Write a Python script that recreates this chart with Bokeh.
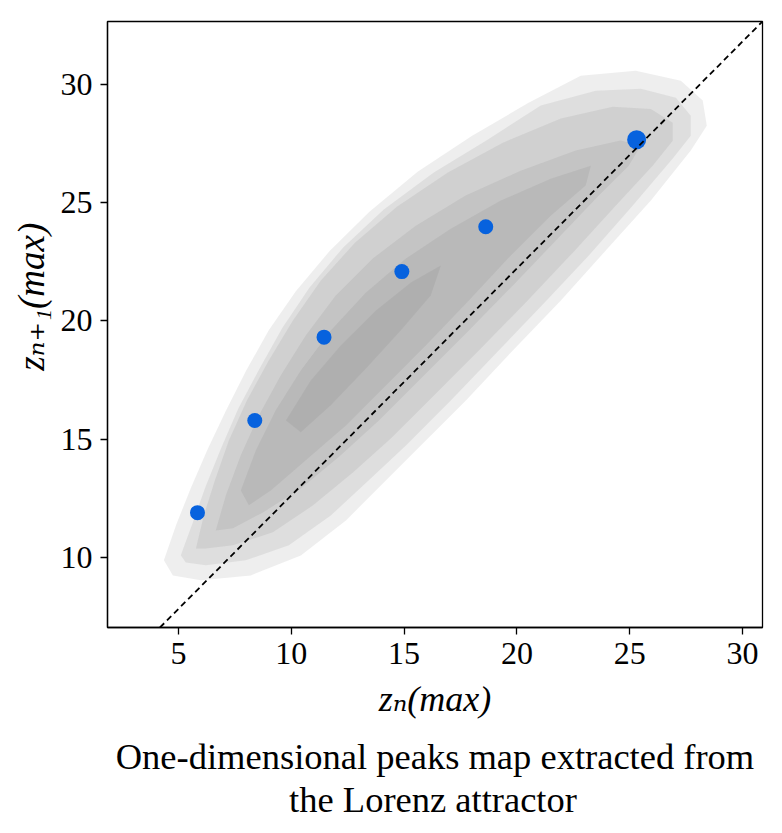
from bokeh.embed import file_html
from bokeh.models import FixedTicker, Range1d, Slope, Title
from bokeh.plotting import figure
from bokeh.resources import INLINE

# Successive maxima of z: z_n(max) against z_{n+1}(max), highlighted points
zn_max = [5.84, 8.38, 11.45, 14.90, 18.62, 25.31]
zn1_max = [11.90, 15.79, 19.31, 22.08, 23.97, 27.65]

x_ticks = [5, 10, 15, 20, 25, 30]
y_ticks = [10, 15, 20, 25, 30]

x_label = "z\u2099(max)"
y_label = "z\u2099\u208a\u2081(max)"
caption = ["One-dimensional peaks map extracted from", "the Lorenz attractor"]

# Density of the peak cloud, as nested contours (outermost first)
cloud_x = [
    [4.35, 4.9, 5.55, 6.3, 7.1, 8.0, 9.0, 10.2, 11.7, 13.45, 15.6, 18.0, 20.5,
     22.83, 25.27, 27.27, 28.24, 28.42, 27.71, 25.94, 23.94, 21.95, 19.82, 17.74, 15.74,
     14.19, 12.42, 10.42, 8.20, 5.99, 4.75],
    [5.10, 5.6, 6.2, 6.9, 7.65, 8.6, 9.6, 10.8, 12.3, 14.1, 16.3, 18.7, 21.06,
     23.50, 25.50, 27.05, 27.71, 27.71, 26.91, 25.14, 23.19, 21.19, 19.11, 17.07, 15.08,
     13.53, 11.75, 9.89, 7.98, 6.21, 5.32],
    [5.77, 6.12, 6.61, 7.23, 8.03, 9.00, 10.07, 11.31, 12.82, 14.68, 16.94, 19.38, 21.95,
     24.25, 25.94, 26.91, 26.91, 26.02, 24.38, 22.48, 20.48, 18.40, 16.32, 14.41, 12.73,
     10.95, 9.18, 7.41, 6.21],
    [6.65, 7.10, 7.76, 8.56, 9.53, 10.64, 11.97, 13.61, 15.52, 17.73, 20.17, 22.61, 24.60,
     25.49, 24.96, 23.63, 21.94, 19.95, 17.87, 15.74, 13.88, 12.19, 10.42, 8.74, 7.41],
    [7.76, 8.43, 9.31, 10.42, 11.75, 13.30, 15.08, 17.07, 19.29, 21.50, 23.28, 23.05,
     21.50, 19.73, 17.87, 15.96, 14.19, 12.42, 10.64, 9.09, 8.12],
    [9.76, 10.86, 12.19, 13.75, 15.30, 16.63, 16.18, 14.85, 13.30, 11.75, 10.42],
]
cloud_y = [
    [9.89, 11.4, 12.95, 14.6, 16.2, 17.9, 19.6, 21.25, 22.95, 24.6, 26.3, 27.8,
     29.2, 30.35, 30.56, 30.14, 29.30, 28.24, 27.19, 25.08, 22.97, 20.86, 18.75, 16.64,
     14.74, 13.26, 11.57, 10.09, 9.25, 9.04, 9.25],
    [10.10, 11.4, 13.0, 14.65, 16.3, 18.0, 19.7, 21.4, 23.1, 24.7, 26.25, 27.65,
     29.09, 29.72, 29.80, 29.42, 28.66, 27.82, 26.85, 24.87, 22.76, 20.73, 18.66, 16.64,
     14.74, 13.35, 11.78, 10.52, 9.89, 9.68, 9.80],
    [10.39, 11.78, 13.26, 14.95, 16.64, 18.32, 20.01, 21.70, 23.30, 24.82, 26.26, 27.52,
     28.54, 29.04, 28.95, 28.36, 27.60, 26.55, 24.86, 22.88, 20.86, 18.83, 16.85, 15.03,
     13.60, 12.20, 11.07, 10.52, 10.39],
    [11.15, 12.63, 14.32, 16.00, 17.69, 19.38, 21.07, 22.63, 24.02, 25.29, 26.34, 27.19,
     27.61, 27.40, 26.55, 25.29, 23.60, 21.62, 19.59, 17.56, 15.79, 14.32, 12.92, 11.91,
     11.24],
    [12.84, 14.53, 16.22, 17.90, 19.59, 21.19, 22.63, 23.89, 25.08, 26.00, 26.55, 25.71,
     24.44, 22.76, 20.86, 18.96, 17.27, 15.58, 14.11, 12.84, 12.21],
    [15.79, 17.48, 18.96, 20.44, 21.62, 22.34, 21.07, 19.59, 17.98, 16.43, 15.29],
]

# Reference line through the map
diag_gradient = 0.958
diag_intercept = 3.05

SERIF = "'Liberation Serif', 'DejaVu Serif', serif"

p = figure(
    width=782, height=833,
    x_range=Range1d(1.85, 30.89), y_range=Range1d(7.05, 32.64),
    output_backend="svg", toolbar_location=None,
    min_border_left=107, min_border_right=20,
    min_border_top=21, min_border_bottom=206,
    background_fill_color="white", border_fill_color="white",
)
p.grid.visible = False
p.outline_line_color = "black"
p.outline_line_width = 1.3

for ax in (p.xaxis[0], p.yaxis[0]):
    ax.axis_line_color = "black"
    ax.axis_line_width = 1.3
    ax.major_tick_line_color = "black"
    ax.major_tick_line_width = 1.3
    ax.major_tick_out = 7
    ax.major_tick_in = 0
    ax.minor_tick_line_color = None
    ax.major_label_text_font = SERIF
    ax.major_label_text_font_size = "32px"
    ax.major_label_text_color = "black"
    ax.major_label_standoff = 8
    ax.axis_label_text_font = SERIF
    ax.axis_label_text_font_style = "italic"
    ax.axis_label_text_color = "black"
p.xaxis[0].ticker = FixedTicker(ticks=x_ticks)
p.yaxis[0].ticker = FixedTicker(ticks=y_ticks)
p.xaxis[0].axis_label = x_label
p.xaxis[0].axis_label_text_font_size = "36px"
p.xaxis[0].axis_label_standoff = 12
# leading no-break spaces lift the rotated label above the frame's centre
p.yaxis[0].axis_label = "\u00a0" * 6 + y_label
p.yaxis[0].axis_label_text_font_size = "37px"
p.yaxis[0].axis_label_standoff = 6

# two-line caption under the x axis; the short second line is padded to sit centred
pad = "\u00a0" * 19
p.add_layout(Title(text=caption[0] + "\n" + pad + caption[1], align="center",
                   standoff=26, text_font=SERIF, text_font_size="36.5px",
                   text_font_style="normal", text_color="black",
                   text_line_height=1.05), "below")

# grey cloud of peaks
p.patches(xs=cloud_x, ys=cloud_y, fill_color="#646464", fill_alpha=0.11, line_color=None)

# dashed reference line
p.add_layout(Slope(gradient=diag_gradient, y_intercept=diag_intercept,
                   line_color="black", line_width=1.8, line_dash="6 4"))

# highlighted peak pairs
BLUE = "#0762de"
p.scatter(zn_max[:-1], zn1_max[:-1], size=15, fill_color=BLUE, line_color=None)
p.scatter(zn_max[-1:], zn1_max[-1:], size=19, fill_color=BLUE, line_color=None)

open("out.html", "w").write(file_html(p, INLINE))
